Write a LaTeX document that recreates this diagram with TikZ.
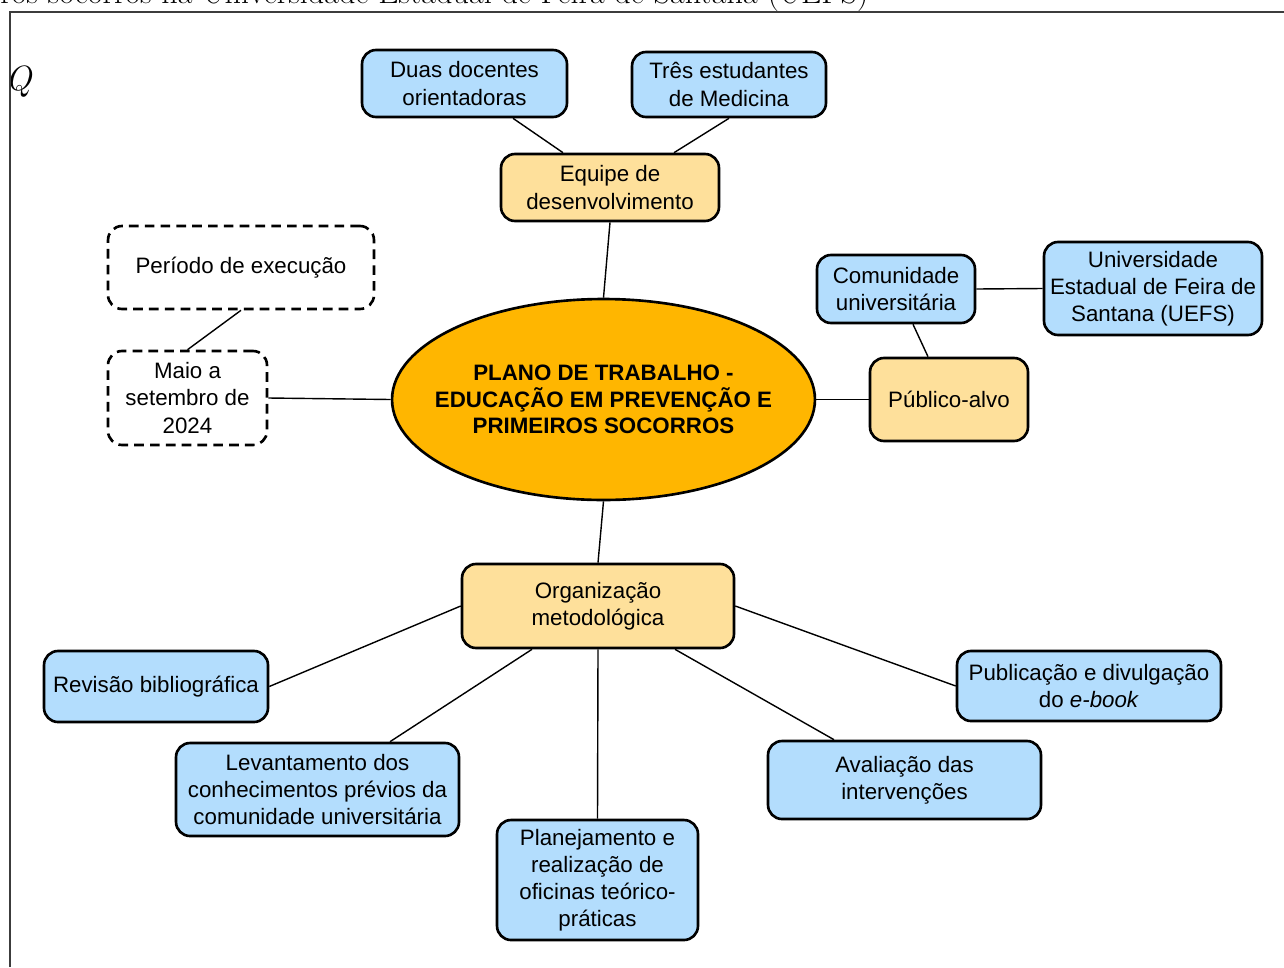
\documentclass[tikz,border=0pt]{standalone}
\usepackage{fontspec}
\newfontfamily\arialfont{Liberation Sans}
\usetikzlibrary{shapes.geometric}

\definecolor{boxblue}{RGB}{179,221,253}
\definecolor{boxcream}{RGB}{254,224,155}
\definecolor{mainorange}{RGB}{255,182,0}
\definecolor{framegray}{RGB}{60,60,60}

\begin{document}
\begin{tikzpicture}[x=0.02cm, y=-0.02cm,
    box/.style={draw, rounded corners=0.28cm, line width=1.5pt, align=center, inner sep=0pt,
      font=\arialfont\fontsize{12.7}{15.4}\selectfont},
    bluebox/.style={box, fill=boxblue},
    creambox/.style={box, fill=boxcream},
    dashbox/.style={box, fill=white, dash pattern=on 5.5pt off 3.5pt},
    link/.style={line width=0.8pt}]
    \useasboundingbox (0,0) rectangle (1284,967);

    % page around the figure
    \node[anchor=base west, inner sep=0pt, font=\fontsize{18.3}{22}\selectfont] (caption) at (0,3)
      {ros socorros na Universidade Estadual de Feira de Santana (UEFS)};
    \begin{scope}
      \clip (10,40) rectangle (36,110);
      \node[anchor=base west, inner sep=0pt, font=\itshape\fontsize{20}{24}\selectfont] (qmark) at (5,90) {Q};
    \end{scope}
    \draw[framegray, line width=0.9pt] (10,967) -- (10,12) -- (1284,12);

    % centre
    \node[ellipse, draw, line width=1.5pt, fill=mainorange, minimum width=8.46cm, minimum height=4.02cm,
      align=center, inner xsep=-0.5cm, inner ysep=0pt, font=\arialfont\bfseries\fontsize{12.7}{15.2}\selectfont]
      (plano) at (603.5,399.5) {PLANO DE TRABALHO -\\EDUCAÇÃO EM PREVENÇÃO E\\PRIMEIROS SOCORROS};

    % top branch
    \node[bluebox, minimum width=4.10cm, minimum height=1.34cm] (duas) at (464.5,83.5) {Duas docentes\\orientadoras};
    \node[bluebox, minimum width=3.88cm, minimum height=1.30cm] (tres) at (729,84.5) {Três estudantes\\de Medicina};
    \node[creambox, minimum width=4.36cm, minimum height=1.34cm] (equipe) at (610,187.5) {Equipe de\\desenvolvimento};

    % left branch
    \node[dashbox, minimum width=5.32cm, minimum height=1.66cm] (periodo) at (241,267.5) {Período de execução};
    \node[dashbox, minimum width=3.18cm, minimum height=1.88cm] (maio) at (187.5,398) {Maio a\\setembro de\\2024};

    % right branch
    \node[bluebox, minimum width=3.16cm, minimum height=1.36cm] (comunidade) at (896,289) {Comunidade\\universitária};
    \node[bluebox, minimum width=4.36cm, minimum height=1.86cm] (uefs) at (1153,288.5) {Universidade\\Estadual de Feira de\\Santana (UEFS)};
    \node[creambox, minimum width=3.16cm, minimum height=1.66cm] (publico) at (949,399.5) {Público-alvo};

    % bottom branch
    \node[creambox, minimum width=5.44cm, minimum height=1.68cm] (organizacao) at (598,606) {Organização\\metodológica};
    \node[bluebox, minimum width=4.48cm, minimum height=1.42cm] (revisao) at (156,686.5) {Revisão bibliográfica};
    \node[bluebox, minimum width=5.66cm, minimum height=1.86cm] (levantamento) at (317.5,789.5)
      {Levantamento dos\\conhecimentos prévios da\\comunidade universitária};
    \node[bluebox, minimum width=4.02cm, minimum height=2.40cm] (planejamento) at (597.5,880)
      {Planejamento e\\realização de\\oficinas teórico-\\práticas};
    \node[bluebox, minimum width=5.46cm, minimum height=1.56cm] (avaliacao) at (904.5,780) {Avaliação das\\intervenções};
    \node[bluebox, minimum width=5.28cm, minimum height=1.40cm] (publicacao) at (1089,686)
      {Publicação e divulgação\\do \textit{e-book}};

    % connectors
    \foreach \a/\b in {equipe.south/plano.north, periodo.south/maio.north, maio.east/plano.west,
      comunidade.east/uefs.west, plano.east/publico.west, plano.south/organizacao.north,
      organizacao.west/revisao.east, organizacao.south/planejamento.north, organizacao.east/publicacao.west}{
      \draw[link] (\a) -- (\b);
    }
    \draw[link] ([xshift=0.97cm]duas.south) -- ([xshift=-0.94cm]equipe.north);
    \draw[link] (tres.south) -- ([xshift=1.28cm]equipe.north);
    \draw[link] ([xshift=0.34cm]comunidade.south) -- ([xshift=-0.42cm]publico.north);
    \draw[link] ([xshift=-1.32cm]organizacao.south) -- ([xshift=1.45cm]levantamento.north);
    \draw[link] ([xshift=1.54cm]organizacao.south) -- ([xshift=-1.41cm]avaliacao.north);
  \end{tikzpicture}
\end{document}
